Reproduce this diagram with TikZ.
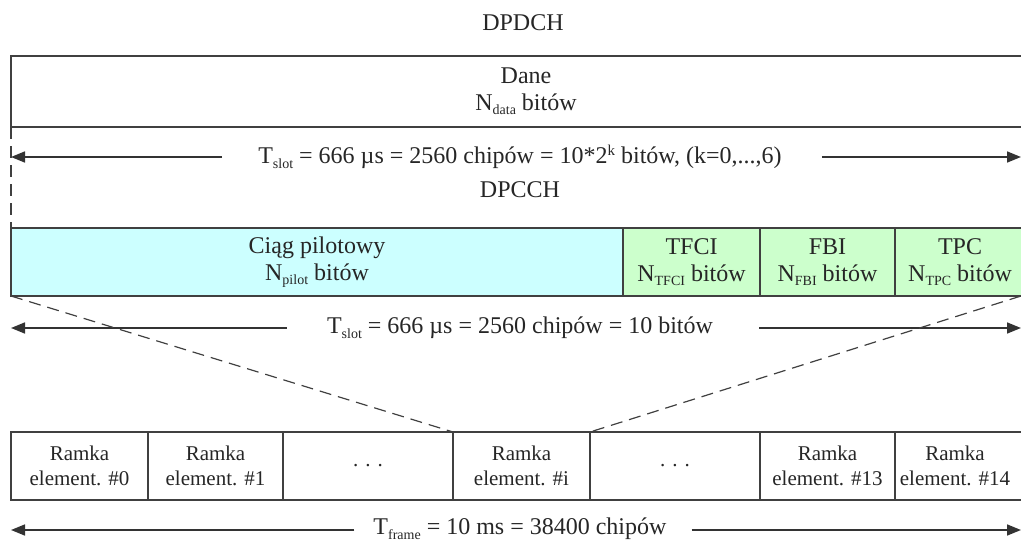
\documentclass[tikz,border=0pt]{standalone}
\usepackage{fontspec}
\setmainfont{Liberation Serif}
\usetikzlibrary{arrows.meta}
\definecolor{pilotcyan}{HTML}{CCFFFF}
\definecolor{fieldgreen}{HTML}{CCFFCC}
\definecolor{linegray}{HTML}{404040}
\newcommand{\sbs}[1]{\raisebox{-0.4ex}{\fontsize{14}{14}\selectfont #1}}
\newcommand{\sps}[1]{\raisebox{0.75ex}{\fontsize{15}{15}\selectfont #1}}
\newcommand{\edgeline}[2]{\makebox[150pt][l]{\makebox[#1]{#2}}}
\begin{document}
\begin{tikzpicture}[x=1pt,y=-1pt,
  font=\fontsize{24}{27}\selectfont,
  cell/.style={draw=linegray, line width=1.6pt, rectangle, anchor=north west,
    inner sep=0pt, outer sep=0pt, align=center, text=black!85, minimum height=68pt},
  small/.style={font=\fontsize{21}{25}\selectfont},
  span/.style={draw=black!80, line width=1.6pt, -{Triangle[length=14pt,width=11pt]}},
  guide/.style={draw=linegray, line width=1.2pt, dash pattern=on 12pt off 7pt},
  lbl/.style={text=black!85, inner sep=0pt}]
\useasboundingbox (0,0) rectangle (1021,546);
\clip (0,0) rectangle (1021,546);
% titles
\node[lbl] (dpdch) at (523,23) {DPDCH};
\node[lbl] (dpcch) at (520,190) {DPCCH};
% data field
\node[cell, minimum width=1030pt, minimum height=71pt] (dane) at (11,56) {Dane\\N\sbs{data} bitów};
% control fields
\node[cell, fill=pilotcyan, minimum width=612pt] (pilot) at (11,228) {Ciąg pilotowy\\N\sbs{pilot} bitów};
\node[cell, fill=fieldgreen, minimum width=137pt] (tfci) at (623,228) {TFCI\\N\sbs{TFCI} bitów};
\node[cell, fill=fieldgreen, minimum width=135pt] (fbi) at (760,228) {FBI\\N\sbs{FBI} bitów};
\node[cell, fill=fieldgreen, minimum width=150pt] (tpc) at (895,228) {\edgeline{130pt}{TPC}\\\edgeline{130pt}{N\sbs{TPC} bitów}};
% frame row
\node[cell, small, minimum width=137pt] (r0) at (11,432) {Ramka\\element. \#0};
\node[cell, small, minimum width=135pt] (r1) at (148,432) {Ramka\\element. \#1};
\node[cell, small, minimum width=170pt] (rd1) at (283,432) {. . .};
\node[cell, small, minimum width=137pt] (ri) at (453,432) {Ramka\\element. \#i};
\node[cell, small, minimum width=170pt] (rd2) at (590,432) {. . .};
\node[cell, small, minimum width=135pt] (r13) at (760,432) {Ramka\\element. \#13};
\node[cell, small, minimum width=150pt] (r14) at (895,432) {\edgeline{120pt}{Ramka}\\\edgeline{120pt}{element. \#14}};
% spans
\node[lbl] (t1) at (520,157) {T\sbs{slot} = 666 µs = 2560 chipów = 10*2\sps{k} bitów, (k=0,...,6)};
\node[lbl] (t2) at (520,328) {T\sbs{slot} = 666 µs = 2560 chipów = 10 bitów};
\node[lbl] (t3) at (520,529) {T\sbs{frame} = 10 ms = 38400 chipów};
\coordinate (l1) at (11,157); \coordinate (e1) at (1021,157);
\coordinate (l2) at (11,328); \coordinate (e2) at (1021,328);
\coordinate (l3) at (11,530); \coordinate (e3) at (1021,530);
\draw[span] ([xshift=-36pt]t1.west) -- (l1);
\draw[span] ([xshift=40pt]t1.east) -- (e1);
\draw[span] ([xshift=-40pt]t2.west) -- (l2);
\draw[span] ([xshift=46pt]t2.east) -- (e2);
\draw[span] ([xshift=-19pt,yshift=-1pt]t3.west) -- (l3);
\draw[span] ([xshift=25pt,yshift=-1pt]t3.east) -- (e3);
% guides
\draw[guide] (dane.south west) -- (pilot.north west);
\coordinate (tpcend) at (1021,296);
\draw[guide] (pilot.south west) -- (ri.north west);
\draw[guide] (tpcend) -- (rd2.north west);
\end{tikzpicture}
\end{document}
